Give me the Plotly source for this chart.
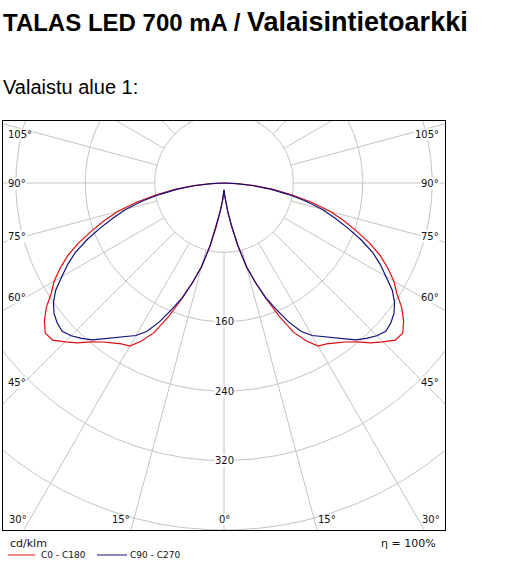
import numpy as np
import plotly.graph_objects as go

# ---------------- data ----------------
gamma_deg = [0, 2.5, 5, 7.5, 10, 12.5, 15, 17.5, 20, 22.5, 25, 27.5, 30, 32.5, 35, 37.5,
             40, 42.5, 45, 47.5, 50, 52.5, 55, 57.5, 60, 62.5, 65, 67.5, 70, 72.5, 75,
             77.5, 80, 82.5, 85, 87.5, 90]
c0_c180 = [8, 13, 22, 34, 51, 74, 100, 120, 142, 166, 190, 205, 217, 220, 225, 231,
           239, 250, 259, 268, 269, 261, 250, 236, 226, 213, 199, 182, 163, 145, 127,
           104, 80, 57, 35, 15, 0]
c90_c270 = [8, 13, 21, 33, 50, 74, 100, 120, 141, 158, 177, 193, 203, 210, 217, 226,
            236, 243, 249, 253, 251, 247, 240, 230, 216, 203, 189, 171, 152, 134, 117,
            97, 75, 54, 33, 14, 0]
radial_circles = [80, 160, 240, 320, 400]
radial_labels = [160, 240, 320]
radial_lines_deg = list(range(0, 181, 15))
side_angle_labels = [45, 60, 75, 90, 105]
bottom_angle_labels = [0, 15, 30]
series_names = ["C0 - C180", "C90 - C270"]
series_colors = ["#e01010", "#10107a"]

# ---------------- geometry (page pixels) ----------------
W, H = 519, 575
BOX_L, BOX_R, BOX_T, BOX_B = 3, 445, 121, 530
CX, CY = 224, 183
Y_MIN = -400.0
K = (BOX_B - CY) / 400.0     # pixels per cd/klm (r=400 touches the box bottom)
y_max = (CY - BOX_T) / K
x_half = (BOX_R - CX) / K


def px_to_x(p):
    return (p - CX) / K


def py_to_y(p):
    return -(p - CY) / K


def px(xp):
    return xp / W


def py(yp):
    return 1 - yp / H


fig = go.Figure()
grid_col = "#c4c4c4"

# circles
t = np.linspace(0, 2 * np.pi, 721)
for r in radial_circles:
    fig.add_trace(go.Scatter(x=r * np.sin(t), y=r * np.cos(t), mode="lines",
                             line=dict(color=grid_col, width=1), hoverinfo="skip",
                             showlegend=False))
# radial lines (start on the first circle)
r0, r1 = radial_circles[0], 700
for gd in radial_lines_deg:
    gr = np.radians(gd)
    for s in (-1, 1):
        if gd in (0, 180) and s == 1:
            continue
        fig.add_trace(go.Scatter(x=[s * r0 * np.sin(gr), s * r1 * np.sin(gr)],
                                 y=[-r0 * np.cos(gr), -r1 * np.cos(gr)], mode="lines",
                                 line=dict(color=grid_col, width=1), hoverinfo="skip",
                                 showlegend=False))

# curves
g = np.radians(np.array(gamma_deg))
for vals, name, col in zip([c0_c180, c90_c270], series_names, series_colors):
    I = np.array(vals, dtype=float)
    xl = -I * np.sin(g)
    yl = -I * np.cos(g)
    x = np.concatenate([xl[::-1], -xl[1:]])
    y = np.concatenate([yl[::-1], yl[1:]])
    fig.add_trace(go.Scatter(x=x, y=y, mode="lines", name=name,
                             line=dict(color=col, width=1.2), showlegend=False))

ann = []
small = dict(family="DejaVu Sans", size=10, color="#111")
# radial value labels
for r in radial_labels:
    ann.append(dict(x=0, y=-r, xref="x", yref="y", text=str(r), showarrow=False,
                    font=small, bgcolor="white", borderpad=0,
                    xanchor="center", yanchor="middle"))
# side angle labels
X25 = abs(px_to_x(BOX_L + 22))
for a in side_angle_labels:
    yv = -X25 / np.tan(np.radians(a)) if a != 90 else 0.0
    ys = -5 if a > 90 else 0
    ann.append(dict(x=px_to_x(BOX_L + 4), y=yv, xref="x", yref="y", text=f"{a}°",
                    showarrow=False, font=small, bgcolor="white", borderpad=0,
                    xanchor="left", yanchor="middle", yshift=ys))
    ann.append(dict(x=px_to_x(BOX_R - 5), y=yv, xref="x", yref="y", text=f"{a}°",
                    showarrow=False, font=small, bgcolor="white", borderpad=0,
                    xanchor="right", yanchor="middle", yshift=ys))
# bottom angle labels
yb = py_to_y(519)
for a in bottom_angle_labels:
    if a == 0:
        ann.append(dict(x=0, y=yb, xref="x", yref="y", text="0°", showarrow=False,
                        font=small, bgcolor="white", borderpad=0,
                        xanchor="center", yanchor="middle"))
        continue
    lx = (519 - CY) * np.tan(np.radians(a)) / K
    ann.append(dict(x=-lx - 1.5 / K, y=yb, xref="x", yref="y", text=f"{a}°",
                    showarrow=False, font=small, xanchor="right", yanchor="middle"))
    ann.append(dict(x=lx + 2 / K, y=yb, xref="x", yref="y", text=f"{a}°",
                    showarrow=False, font=small, xanchor="left", yanchor="middle"))

# titles
ann.append(dict(x=px(1), y=py(22), xref="paper", yref="paper", xanchor="left",
                yanchor="middle", showarrow=False,
                text="<b>TALAS LED 700 mA / </b><b><span style='font-size:27px'>Valaisintietoarkki</span></b>",
                font=dict(family="Liberation Sans", size=24, color="#000")))
ann.append(dict(x=px(1), y=py(87), xref="paper", yref="paper", xanchor="left",
                yanchor="middle", showarrow=False, text="Valaistu alue 1:",
                font=dict(family="Liberation Sans", size=20, color="#000")))
# footer
ann.append(dict(x=px(8), y=py(543), xref="paper", yref="paper", xanchor="left",
                yanchor="middle", showarrow=False, text="cd/klm",
                font=dict(family="DejaVu Sans", size=11, color="#111")))
ann.append(dict(x=px(438), y=py(543), xref="paper", yref="paper", xanchor="right",
                yanchor="middle", showarrow=False, text="η = 100%",
                font=dict(family="DejaVu Sans", size=11, color="#111")))
shapes = []
leg_pos = [(8, 35, 39), (97, 127, 128)]
for (x0, x1, tx), name, col in zip(leg_pos, series_names, series_colors):
    shapes.append(dict(type="line", xref="paper", yref="paper", x0=px(x0), x1=px(x1),
                       y0=py(555), y1=py(555), line=dict(color=col, width=1)))
    ann.append(dict(x=px(tx), y=py(555), xref="paper", yref="paper", xanchor="left",
                    yanchor="middle", showarrow=False, text=name,
                    font=dict(family="DejaVu Sans", size=9, color="#111")))

fig.update_layout(
    width=W, height=H, margin=dict(l=0, r=0, t=0, b=0),
    paper_bgcolor="white", plot_bgcolor="white",
    xaxis=dict(domain=[px(BOX_L), px(BOX_R)], range=[-x_half, x_half],
               showgrid=False, zeroline=False, showticklabels=False, ticks="",
               showline=True, linecolor="black", linewidth=1, mirror=True, fixedrange=True),
    yaxis=dict(domain=[py(BOX_B), py(BOX_T)], range=[Y_MIN, y_max],
               showgrid=False, zeroline=False, showticklabels=False, ticks="",
               showline=True, linecolor="black", linewidth=1, mirror=True, fixedrange=True),
    annotations=ann, shapes=shapes, showlegend=False, hovermode=False,
)
fig.write_html("out.html", config={"displayModeBar": False, "staticPlot": True},
               post_script="document.body.style.margin='0';")
